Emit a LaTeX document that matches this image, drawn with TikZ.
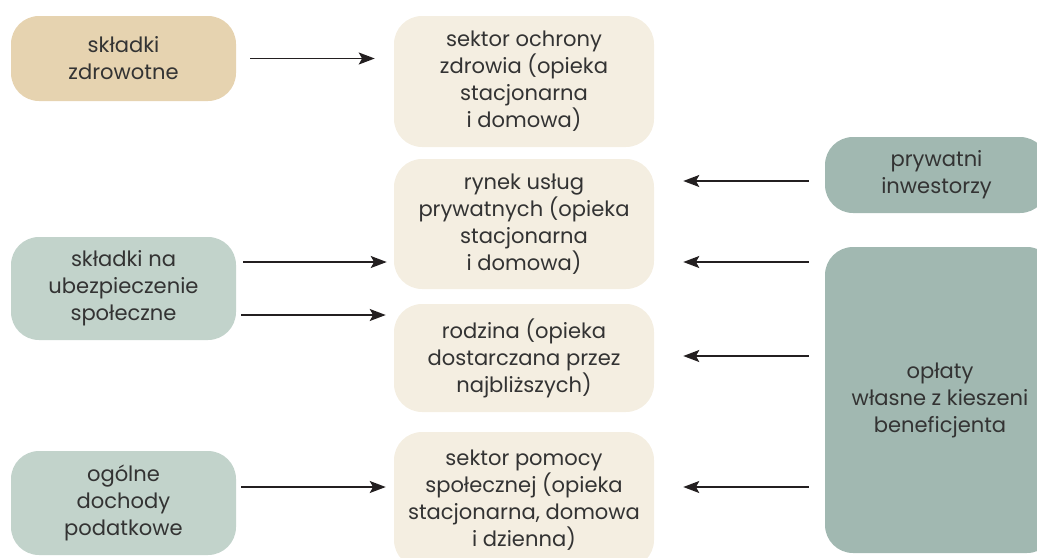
\documentclass[tikz,border=0pt]{standalone}
\usepackage{fontspec}
\setmainfont{Poppins}
\usetikzlibrary{arrows.meta,calc}
\definecolor{sand}{HTML}{E6D3B0}
\definecolor{cream}{HTML}{F4EEE1}
\definecolor{sagelight}{HTML}{C2D3CB}
\definecolor{sagedark}{HTML}{A1B8B1}
\definecolor{ink}{HTML}{333333}
\definecolor{arrowc}{HTML}{231F20}
\begin{document}
\begin{tikzpicture}[x=0.75pt,y=-0.75pt,
  box/.style={rounded corners=21pt, inner sep=0pt, align=center, text=ink,
    font=\fontsize{15.8pt}{20.25pt}\selectfont},
  leftbox/.style={box, minimum width=168.75pt},
  midbox/.style={box, fill=cream, minimum width=195pt},
  arr/.style={draw=arrowc, line width=1.1pt, -{Stealth[length=12pt,width=9pt,inset=2.5pt]}}]
\useasboundingbox (0,0) rectangle (1037,557);
\clip (0,0) rectangle (1037,557);
\node[leftbox, fill=sand, minimum height=63.75pt] (sz) at (123.5,58.5) {składki\\zdrowotne};
\node[leftbox, fill=sagelight, minimum height=77.25pt] (sun) at (123.5,288.5) {składki na\\ubezpieczenie\\społeczne};
\node[leftbox, fill=sagelight, minimum height=78pt] (ogd) at (123.5,503) {ogólne\\dochody\\podatkowe};
\node[midbox, minimum height=98.25pt] (soz) at (524,81.5) {sektor ochrony\\zdrowia (opieka\\stacjonarna\\i domowa)};
\node[midbox, minimum height=97.5pt] (ryn) at (524,224) {rynek usług\\prywatnych (opieka\\stacjonarna\\i domowa)};
\node[midbox, minimum height=81pt] (rod) at (524,358) {rodzina (opieka\\dostarczana przez\\najbliższych)};
\node[midbox, minimum height=102pt] (pom) at (524,500) {sektor pomocy\\społecznej (opieka\\stacjonarna, domowa\\i dzienna)};
\node[box, fill=sagedark, minimum width=167.25pt, minimum height=57pt] (pi) at (936.5,175) {prywatni\\inwestorzy};
\node[box, fill=sagedark, minimum width=172.5pt, minimum height=229.5pt] (op) at (940,400) {opłaty\\własne z kieszeni\\beneficjenta};
% left arrows
\draw[arr] ($(sz.east)+(14,0)$) -- ($(soz.west |- sz.east)+(-19,0)$);
\draw[arr] ($(sun.east |- 0,262)+(7,0)$) -- ($(ryn.west |- 0,262)+(-7,0)$);
\draw[arr] ($(sun.east |- 0,315)+(5,0)$) -- ($(rod.west |- 0,315)+(-8,0)$);
\draw[arr] ($(ogd.east |- 0,487)+(5,0)$) -- ($(pom.west |- 0,487)+(-8,0)$);
% right arrows
\draw[arr] ($(pi.west |- 0,181)+(-16,0)$) -- ($(ryn.east |- 0,181)+(29,0)$);
\draw[arr] ($(op.west |- 0,262)+(-16,0)$) -- ($(ryn.east |- 0,262)+(29,0)$);
\draw[arr] ($(op.west |- 0,356)+(-16,0)$) -- ($(rod.east |- 0,356)+(29,0)$);
\draw[arr] ($(op.west |- 0,487)+(-16,0)$) -- ($(pom.east |- 0,487)+(29,0)$);
\end{tikzpicture}
\end{document}
